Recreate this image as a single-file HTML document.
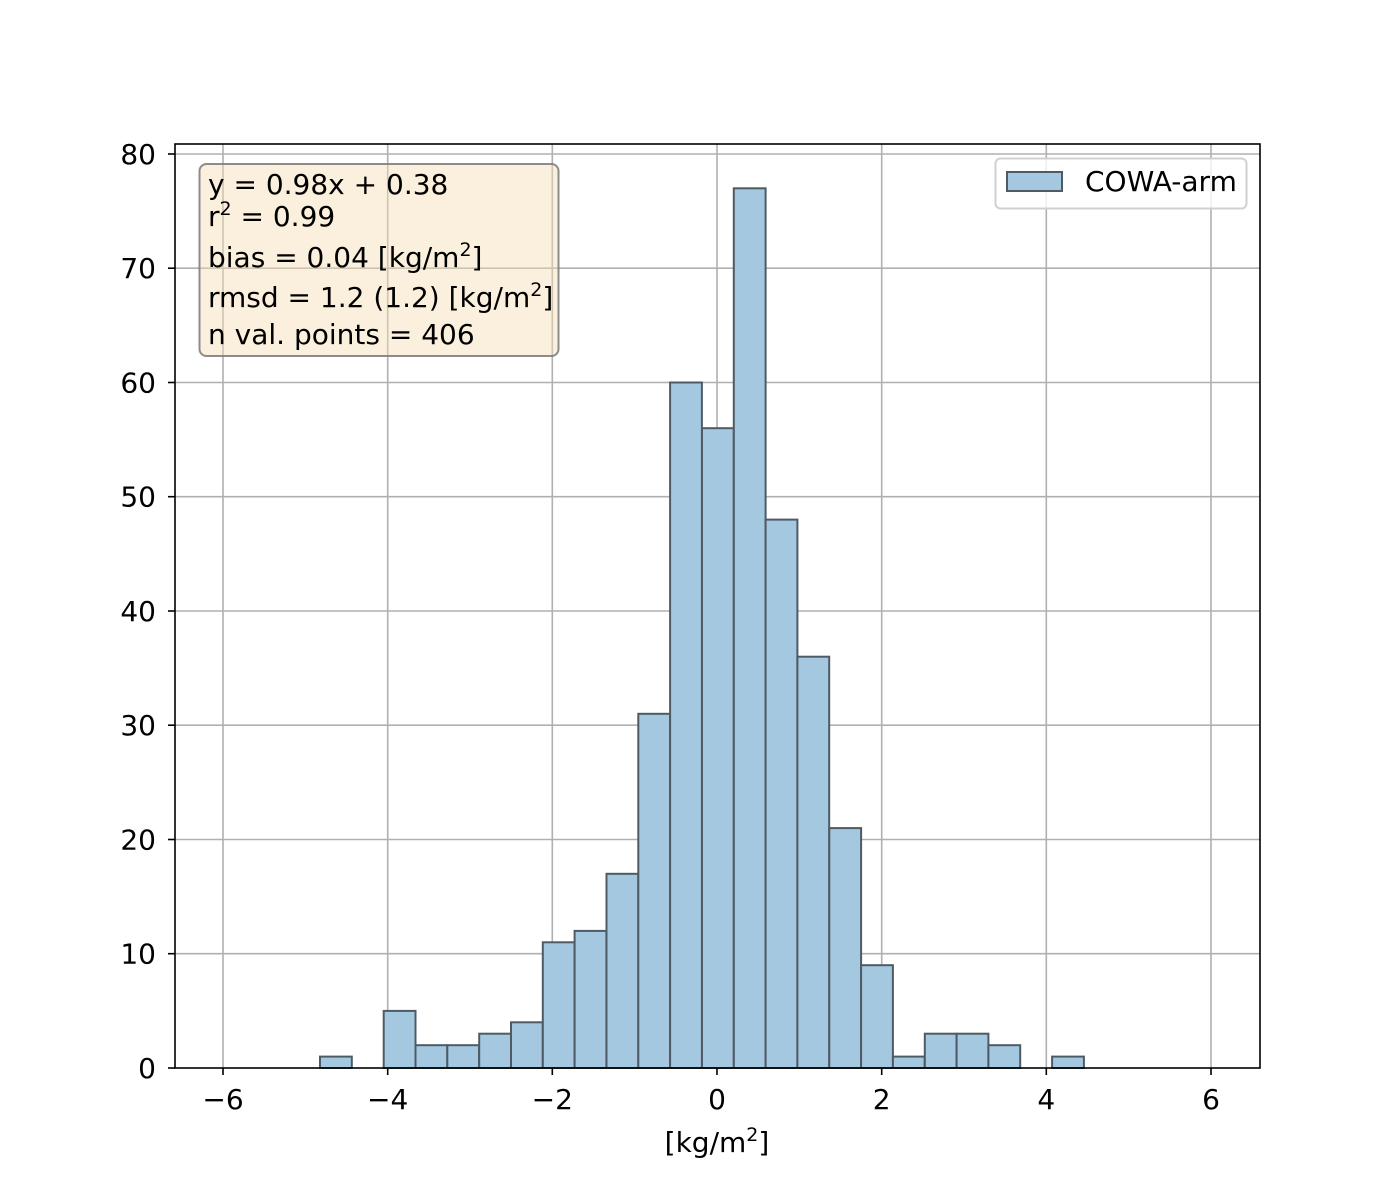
<!DOCTYPE html>
<html><head><style>body{margin:0;background:#fff}svg{display:block}text{font-family:"DejaVu Sans","Liberation Sans",sans-serif;fill:#000}</style></head><body>
<svg width="1400" height="1200" viewBox="0 0 1400 1200" xmlns="http://www.w3.org/2000/svg">
<rect width="1400" height="1200" fill="#fff"/>
<g stroke="#b0b0b0" stroke-width="1.6">
<line x1="223" y1="144" x2="223" y2="1068"/><line x1="387.7" y1="144" x2="387.7" y2="1068"/><line x1="552.3" y1="144" x2="552.3" y2="1068"/><line x1="717" y1="144" x2="717" y2="1068"/><line x1="881.7" y1="144" x2="881.7" y2="1068"/><line x1="1046.3" y1="144" x2="1046.3" y2="1068"/><line x1="1211" y1="144" x2="1211" y2="1068"/>
<line x1="175" y1="953.7" x2="1260" y2="953.7"/><line x1="175" y1="839.5" x2="1260" y2="839.5"/><line x1="175" y1="725.2" x2="1260" y2="725.2"/><line x1="175" y1="611" x2="1260" y2="611"/><line x1="175" y1="496.7" x2="1260" y2="496.7"/><line x1="175" y1="382.5" x2="1260" y2="382.5"/><line x1="175" y1="268.2" x2="1260" y2="268.2"/><line x1="175" y1="154" x2="1260" y2="154"/>
</g>
<g fill="#a5c8e1" stroke="#4e5b64" stroke-width="2">
<rect x="320" y="1056.6" width="31.8" height="11.4"/>
<rect x="383.7" y="1010.9" width="31.8" height="57.1"/>
<rect x="415.5" y="1045.2" width="31.8" height="22.8"/>
<rect x="447.3" y="1045.2" width="31.8" height="22.8"/>
<rect x="479.2" y="1033.7" width="31.8" height="34.3"/>
<rect x="511" y="1022.3" width="31.8" height="45.7"/>
<rect x="542.8" y="942.3" width="31.8" height="125.7"/>
<rect x="574.6" y="930.9" width="31.8" height="137.1"/>
<rect x="606.5" y="873.8" width="31.8" height="194.2"/>
<rect x="638.3" y="713.8" width="31.8" height="354.2"/>
<rect x="670.1" y="382.5" width="31.8" height="685.5"/>
<rect x="702" y="428.2" width="31.8" height="639.8"/>
<rect x="733.8" y="188.3" width="31.8" height="879.7"/>
<rect x="765.6" y="519.6" width="31.8" height="548.4"/>
<rect x="797.4" y="656.7" width="31.8" height="411.3"/>
<rect x="829.3" y="828.1" width="31.8" height="239.9"/>
<rect x="861.1" y="965.2" width="31.8" height="102.8"/>
<rect x="892.9" y="1056.6" width="31.8" height="11.4"/>
<rect x="924.8" y="1033.7" width="31.8" height="34.3"/>
<rect x="956.6" y="1033.7" width="31.8" height="34.3"/>
<rect x="988.4" y="1045.2" width="31.8" height="22.8"/>
<rect x="1052.1" y="1056.6" width="31.8" height="11.4"/>
</g>
<rect x="175" y="144" width="1085" height="924" fill="none" stroke="#000" stroke-width="1.6"/>
<g stroke="#000" stroke-width="1.6">
<line x1="223" y1="1068" x2="223" y2="1075"/><line x1="387.7" y1="1068" x2="387.7" y2="1075"/><line x1="552.3" y1="1068" x2="552.3" y2="1075"/><line x1="717" y1="1068" x2="717" y2="1075"/><line x1="881.7" y1="1068" x2="881.7" y2="1075"/><line x1="1046.3" y1="1068" x2="1046.3" y2="1075"/><line x1="1211" y1="1068" x2="1211" y2="1075"/>
<line x1="168" y1="1068" x2="175" y2="1068"/><line x1="168" y1="953.7" x2="175" y2="953.7"/><line x1="168" y1="839.5" x2="175" y2="839.5"/><line x1="168" y1="725.2" x2="175" y2="725.2"/><line x1="168" y1="611" x2="175" y2="611"/><line x1="168" y1="496.7" x2="175" y2="496.7"/><line x1="168" y1="382.5" x2="175" y2="382.5"/><line x1="168" y1="268.2" x2="175" y2="268.2"/><line x1="168" y1="154" x2="175" y2="154"/>
</g>
<g font-size="28" text-anchor="middle">
<text x="223" y="1109">−6</text><text x="387.7" y="1109">−4</text><text x="552.3" y="1109">−2</text><text x="717" y="1109">0</text><text x="881.7" y="1109">2</text><text x="1046.3" y="1109">4</text><text x="1211" y="1109">6</text>
<text x="717" y="1152">[kg/m<tspan font-size="19" dy="-11">2</tspan><tspan dy="11">]</tspan></text>
</g>
<g font-size="28" text-anchor="end">
<text x="156" y="1078">0</text><text x="156" y="963.7">10</text><text x="156" y="849.5">20</text><text x="156" y="735.2">30</text><text x="156" y="621">40</text><text x="156" y="506.7">50</text><text x="156" y="392.5">60</text><text x="156" y="278.2">70</text><text x="156" y="164">80</text>
</g>
<rect x="199.5" y="164" width="359" height="192" rx="7" fill="#f5deb3" fill-opacity="0.45" stroke="#808080" stroke-opacity="0.9" stroke-width="2"/>
<g font-size="28">
<text x="208" y="194">y = 0.98x + 0.38</text>
<text x="208" y="226">r<tspan font-size="19" dy="-11">2</tspan><tspan dy="11"> = 0.99</tspan></text>
<text x="208" y="267">bias = 0.04 [kg/m<tspan font-size="19" dy="-11">2</tspan><tspan dy="11">]</tspan></text>
<text x="208" y="307">rmsd = 1.2 (1.2) [kg/m<tspan font-size="19" dy="-11">2</tspan><tspan dy="11">]</tspan></text>
<text x="208" y="344">n val. points = 406</text>
</g>
<rect x="995.5" y="158.5" width="251" height="50" rx="5" fill="#fff" fill-opacity="0.8" stroke="#d0d0d0" stroke-width="2"/>
<rect x="1007" y="172" width="55" height="19" fill="#a5c8e1" stroke="#4e5b64" stroke-width="2"/>
<text x="1085" y="191" font-size="28">COWA-arm</text>
</svg>
</body></html>
